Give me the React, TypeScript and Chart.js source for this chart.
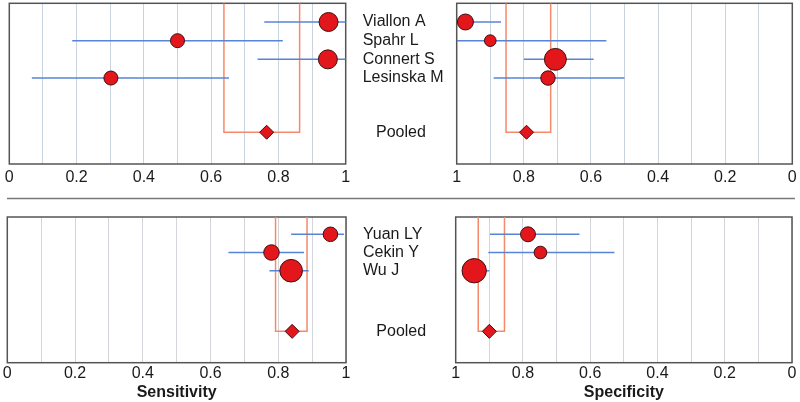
import React, { useEffect, useRef } from "react";
import { Chart, registerables } from "chart.js";

Chart.register(...registerables);

// ---------- data ----------
const topStudies = ["Viallon A", "Spahr L", "Connert S", "Lesinska M"];
const bottomStudies = ["Yuan LY", "Cekin Y", "Wu J"];
const pooledLabel = "Pooled";

// top group – sensitivity
const topSens = [0.949, 0.5, 0.947, 0.302];
const topSensLo = [0.758, 0.187, 0.738, 0.067];
const topSensHi = [1.0, 0.813, 1.0, 0.653];
const topSensWeight = [90, 49, 90, 49];
const topSensPooled = [0.765, 0.638, 0.863]; // estimate, lower, upper

// top group – specificity
const topSpec = [0.974, 0.9, 0.706, 0.728];
const topSpecLo = [0.868, 0.554, 0.592, 0.5];
const topSpecHi = [1.0, 1.0, 0.8, 0.89];
const topSpecWeight = [64, 34, 120, 52];
const topSpecPooled = [0.792, 0.72, 0.853];

// bottom group – sensitivity
const botSens = [0.954, 0.78, 0.838];
const botSensLo = [0.838, 0.653, 0.774];
const botSensHi = [0.994, 0.876, 0.89];
const botSensWeight = [53, 60, 128];
const botSensPooled = [0.841, 0.792, 0.885];

// bottom group – specificity
const botSpec = [0.785, 0.748, 0.945];
const botSpecLo = [0.632, 0.528, 0.9];
const botSpecHi = [0.898, 0.903, 0.973];
const botSpecWeight = [56, 40, 148];
const botSpecPooled = [0.9, 0.855, 0.933];

const xTickValues = [0, 0.2, 0.4, 0.6, 0.8, 1];

// ---------- styles ----------
const RED = "#e3161c";
const DARK = "#3f0e0e";
const BLUE = "#5884d6";
const ORANGE = "#f5896b";
const GRID_TOP = "#c8d5e0";
const GRID_BOTTOM = "#d2d5d9";
const FRAME = "#555555";
const TEXT = "#1a1a1a";
const FONT = "'Liberation Sans', Arial, Helvetica, sans-serif";

Chart.defaults.font.family = FONT;

type PanelCfg = {
  key: string;
  names: string[] | null;
  values: number[];
  lo: number[];
  hi: number[];
  weights: number[];
  pooled: number[];
  reverse: boolean;
  pooledRow: number;
  yMin: number;
  yMax: number;
  padding: { left: number; right: number; top: number; bottom: number };
  axisHeight: number;
  tickPad: number;
  title: string | null;
  separator: boolean;
  grid: string;
};

const panels: PanelCfg[] = [
  {
    key: "tl",
    names: topStudies,
    values: topSens,
    lo: topSensLo,
    hi: topSensHi,
    weights: topSensWeight,
    pooled: topSensPooled,
    reverse: false,
    pooledRow: 6.9,
    yMin: 0,
    yMax: 8.6,
    padding: { left: 9.3, right: 354.3, top: 3.3, bottom: 208 },
    axisHeight: 30,
    tickPad: 4,
    title: null,
    separator: true,
    grid: GRID_TOP,
  },
  {
    key: "tr",
    names: null,
    values: topSpec,
    lo: topSpecLo,
    hi: topSpecHi,
    weights: topSpecWeight,
    pooled: topSpecPooled,
    reverse: true,
    pooledRow: 6.9,
    yMin: 0,
    yMax: 8.6,
    padding: { left: 456.7, right: 7.7, top: 3.3, bottom: 208 },
    axisHeight: 30,
    tickPad: 4,
    title: null,
    separator: false,
    grid: GRID_TOP,
  },
  {
    key: "bl",
    names: bottomStudies,
    values: botSens,
    lo: botSensLo,
    hi: botSensHi,
    weights: botSensWeight,
    pooled: botSensPooled,
    reverse: false,
    pooledRow: 6.33,
    yMin: 0.05,
    yMax: 8.05,
    padding: { left: 7.3, right: 354, top: 217, bottom: 0 },
    axisHeight: 39.3,
    tickPad: 1,
    title: "Sensitivity",
    separator: false,
    grid: GRID_BOTTOM,
  },
  {
    key: "br",
    names: null,
    values: botSpec,
    lo: botSpecLo,
    hi: botSpecHi,
    weights: botSpecWeight,
    pooled: botSpecPooled,
    reverse: true,
    pooledRow: 6.33,
    yMin: 0.05,
    yMax: 8.05,
    padding: { left: 455.7, right: 8, top: 217, bottom: 0 },
    axisHeight: 39.3,
    tickPad: 1,
    title: "Specificity",
    separator: false,
    grid: GRID_BOTTOM,
  },
];

const framePlugin = {
  id: "frame",
  beforeDatasetsDraw(chart: any) {
    const { ctx, chartArea: a } = chart;
    ctx.save();
    ctx.strokeStyle = FRAME;
    ctx.lineWidth = 1.5;
    ctx.strokeRect(a.left, a.top, a.right - a.left, a.bottom - a.top);
    ctx.restore();
  },
};

const separatorPlugin = {
  id: "separator",
  afterDraw(chart: any) {
    const opts = chart.options.plugins.separator;
    if (!opts || !opts.show) return;
    const { ctx } = chart;
    ctx.save();
    ctx.strokeStyle = "#7a7a7a";
    ctx.lineWidth = 1.5;
    ctx.beginPath();
    ctx.moveTo(7, 198.5);
    ctx.lineTo(795, 198.5);
    ctx.stroke();
    ctx.restore();
  },
};

function buildConfig(p: PanelCfg): any {
  const rows = p.values.map((_, i) => i + 1);
  const datasets: any[] = [];
  datasets.push({
    label: "studies",
    data: p.values.map((v, i) => ({ x: v, y: rows[i] })),
    pointRadius: p.weights.map((w) => Math.sqrt(w)),
    pointHoverRadius: p.weights.map((w) => Math.sqrt(w)),
    backgroundColor: RED,
    borderColor: DARK,
    borderWidth: 1,
    showLine: false,
    order: 0,
    clip: false,
  });
  datasets.push({
    label: "pooled",
    data: [{ x: p.pooled[0], y: p.pooledRow }],
    pointStyle: "rectRot",
    pointRadius: 7,
    pointHoverRadius: 7,
    backgroundColor: RED,
    borderColor: DARK,
    borderWidth: 1,
    showLine: false,
    order: 1,
    clip: false,
  });
  p.lo.forEach((lo, i) => {
    datasets.push({
      label: "ci" + i,
      data: [
        { x: lo, y: rows[i] },
        { x: p.hi[i], y: rows[i] },
      ],
      showLine: true,
      borderColor: BLUE,
      borderWidth: 1.5,
      pointRadius: 0,
      pointHoverRadius: 0,
      order: 2,
    });
  });
  datasets.push({
    label: "pooled CI",
    data: [
      { x: p.pooled[1], y: p.yMin },
      { x: p.pooled[1], y: p.pooledRow },
      { x: p.pooled[2], y: p.pooledRow },
      { x: p.pooled[2], y: p.yMin },
    ],
    showLine: true,
    borderColor: ORANGE,
    borderWidth: 1.5,
    pointRadius: 0,
    pointHoverRadius: 0,
    tension: 0,
    order: 3,
  });

  const yLabels = p.names ? [...p.names, "   " + pooledLabel] : [];
  const yTickVals = [...rows, p.pooledRow];

  const yScale: any = p.names
    ? {
        type: "linear",
        position: "right",
        min: p.yMin,
        max: p.yMax,
        reverse: true,
        afterBuildTicks: (s: any) => {
          s.ticks = yTickVals.map((v) => ({ value: v }));
        },
        ticks: {
          autoSkip: false,
          padding: 17,
          color: TEXT,
          font: { size: 16 },
          callback: (_v: any, i: number) => yLabels[i],
        },
        grid: { display: false, drawTicks: false },
        border: { display: false },
        afterFit: (s: any) => {
          s.width = 100;
          s.paddingTop = 0;
          s.paddingBottom = 0;
          s.paddingLeft = 0;
          s.paddingRight = 0;
        },
      }
    : { type: "linear", display: false, min: p.yMin, max: p.yMax, reverse: true };

  return {
    type: "scatter",
    data: { datasets },
    options: {
      animation: false,
      responsive: false,
      devicePixelRatio: 1,
      events: [],
      layout: { padding: p.padding, autoPadding: false },
      plugins: {
        legend: { display: false },
        tooltip: { enabled: false },
        separator: { show: p.separator },
      },
      scales: {
        x: {
          type: "linear",
          position: "bottom",
          min: 0,
          max: 1,
          reverse: p.reverse,
          afterBuildTicks: (s: any) => {
            const vals: number[] = [];
            for (let i = 0; i <= 10; i++) vals.push(i / 10);
            s.ticks = vals.map((v) => ({ value: v }));
          },
          ticks: {
            autoSkip: false,
            maxRotation: 0,
            minRotation: 0,
            padding: p.tickPad,
            color: TEXT,
            font: { size: 16 },
            callback: (v: any) => {
              const match = xTickValues.find((t) => Math.abs(t - v) < 1e-6);
              return match === undefined ? "" : String(match);
            },
          },
          grid: { color: p.grid, lineWidth: 1, drawTicks: false },
          border: { display: false },
          title: p.title
            ? {
                display: true,
                text: p.title,
                color: TEXT,
                font: { size: 16, weight: "bold" },
                padding: { top: 0, bottom: 0 },
              }
            : { display: false },
          afterFit: (s: any) => {
            s.height = p.axisHeight;
            s.paddingLeft = 0;
            s.paddingRight = 0;
          },
        },
        y: yScale,
      },
    },
    plugins: [framePlugin, separatorPlugin],
  };
}

function PanelChart({ cfg }: { cfg: PanelCfg }) {
  const ref = useRef<HTMLCanvasElement | null>(null);
  useEffect(() => {
    if (!ref.current) return;
    const chart = new Chart(ref.current, buildConfig(cfg));
    return () => chart.destroy();
  }, [cfg]);
  return (
    <canvas
      ref={ref}
      width={800}
      height={402}
      style={{ position: "absolute", left: 0, top: 0, width: 800, height: 402 }}
    />
  );
}

export default function App() {
  return (
    <div
      style={{
        position: "fixed",
        left: 0,
        top: 0,
        width: 800,
        height: 402,
        background: "#ffffff",
        overflow: "hidden",
      }}
    >
      {panels.map((p) => (
        <PanelChart key={p.key} cfg={p} />
      ))}
    </div>
  );
}
